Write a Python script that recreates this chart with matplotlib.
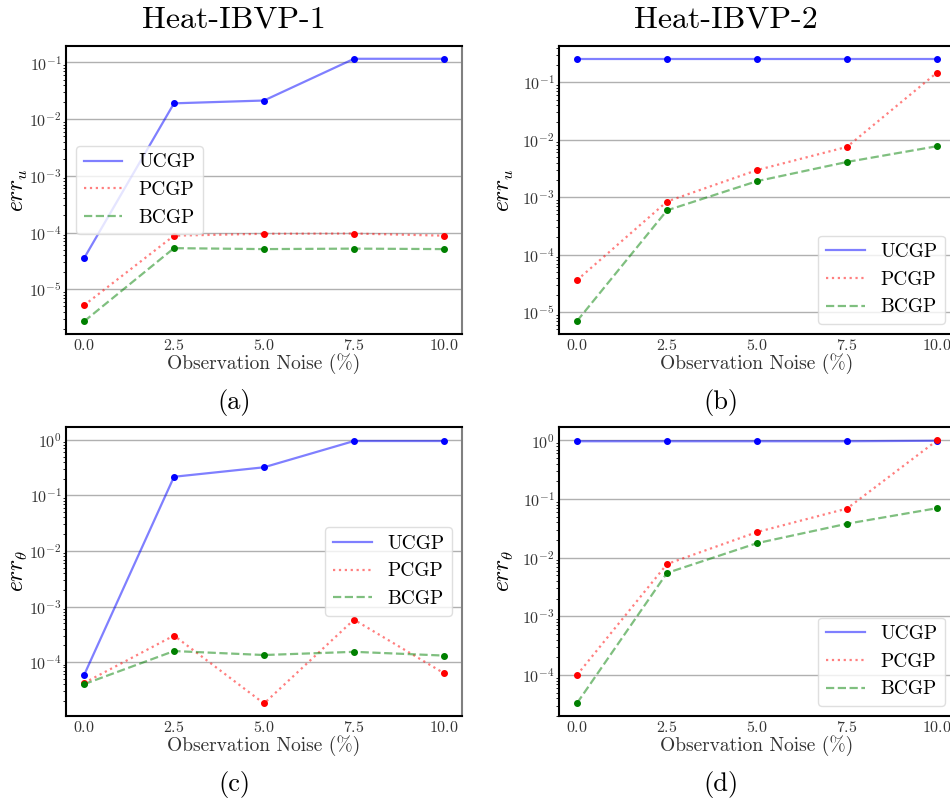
import numpy as np
import matplotlib.pyplot as plt

plt.rcParams['font.family'] = 'cmr10'
plt.rcParams['mathtext.fontset'] = 'cm'
plt.rcParams['axes.formatter.use_mathtext'] = True

noise = [0.0, 2.5, 5.0, 7.5, 10.0]
methods = ['UCGP', 'PCGP', 'BCGP']

# (a) Heat-IBVP-1, err_u
a_ucgp = [3.5e-5, 0.019, 0.0213, 0.116, 0.116]
a_pcgp = [5.2e-6, 8.8e-5, 9.5e-5, 9.6e-5, 8.8e-5]
a_bcgp = [2.7e-6, 5.3e-5, 5.1e-5, 5.2e-5, 5.1e-5]
# (b) Heat-IBVP-2, err_u
b_ucgp = [0.257, 0.257, 0.257, 0.257, 0.257]
b_pcgp = [3.6e-5, 8.4e-4, 2.96e-3, 7.5e-3, 0.147]
b_bcgp = [7.0e-6, 5.9e-4, 1.9e-3, 4.1e-3, 7.7e-3]
# (c) Heat-IBVP-1, err_theta
c_ucgp = [5.8e-5, 0.216, 0.32, 0.95, 0.95]
c_pcgp = [4.2e-5, 3.0e-4, 1.8e-5, 5.8e-4, 6.3e-5]
c_bcgp = [4.0e-5, 1.58e-4, 1.34e-4, 1.53e-4, 1.31e-4]
# (d) Heat-IBVP-2, err_theta
d_ucgp = [0.97, 0.97, 0.97, 0.97, 0.99]
d_pcgp = [1.0e-4, 7.8e-3, 0.0274, 0.069, 1.0]
d_bcgp = [3.3e-5, 5.5e-3, 0.0177, 0.038, 0.070]

panels = [
    (a_ucgp, a_pcgp, a_bcgp, '$err_u$', 'center left', (10**-5.79, 10**-0.71)),
    (b_ucgp, b_pcgp, b_bcgp, '$err_u$', 'lower right', (10**-5.38, 10**-0.37)),
    (c_ucgp, c_pcgp, c_bcgp, r'$err_\theta$', 'center right', (10**-4.97, 10**0.23)),
    (d_ucgp, d_pcgp, d_bcgp, r'$err_\theta$', 'lower right', (10**-4.70, 10**0.23)),
]

W, H = 950, 801
fig = plt.figure(figsize=(9.5, 8.01), dpi=100)
# axes boxes in pixels: left, top, right, bottom (right column runs off the edge)
boxes = [(66, 46, 462, 334), (559, 46, 955, 334), (66, 427, 462, 716), (559, 427, 955, 716)]
ylab_x = [30, 516, 30, 516]

styles = [('blue', '-'), ('red', ':'), ('green', '--')]

for (u, p, b, ylab, loc, ylim), (l, t, r, bt), yx in zip(panels, boxes, ylab_x):
    ax = fig.add_axes([l / W, 1 - bt / H, (r - l) / W, (bt - t) / H])
    for vals, name, (col, ls) in zip([u, p, b], methods, styles):
        ax.plot(noise, vals, color=col, linestyle=ls, linewidth=1.6, alpha=0.5, label=name)
        ax.scatter(noise, vals, color=col, s=16, zorder=3)
    ax.set_yscale('log')
    ax.set_ylim(*ylim)
    ax.set_xlim(-0.5, 10.5)
    ax.set_xticks(noise)
    ax.grid(axis='y', which='major', color='#b0b0b0', linewidth=1)
    ax.tick_params(axis='both', which='major', length=0, labelsize=11.5, pad=3, labelcolor='#333333')
    ax.tick_params(axis='y', which='minor', length=2, width=0.6)
    ax.tick_params(axis='x', which='minor', length=0)
    ax.set_xlabel('Observation Noise (%)', fontsize=14, labelpad=0, color='#333333')
    ax.set_ylabel(ylab, fontsize=17)
    ax.yaxis.set_label_coords((yx - l) / (r - l), 0.5)
    for s in ax.spines.values():
        s.set_linewidth(1.5)
    ax.spines['right'].set_color('#808080')
    leg = ax.legend(loc=loc, fontsize=14)
    leg.get_frame().set_edgecolor('#d8d8d8')

fig.text(234 / W, 1 - 20 / H, 'Heat-IBVP-1', fontsize=23, ha='center', va='center')
fig.text(726 / W, 1 - 20 / H, 'Heat-IBVP-2', fontsize=23, ha='center', va='center')
for lab, x, y in [('(a)', 234, 402), ('(b)', 721, 402), ('(c)', 234, 785), ('(d)', 721, 785)]:
    fig.text(x / W, 1 - y / H, lab, fontsize=19, ha='center', va='center')

fig.savefig('out.png', dpi=100)
